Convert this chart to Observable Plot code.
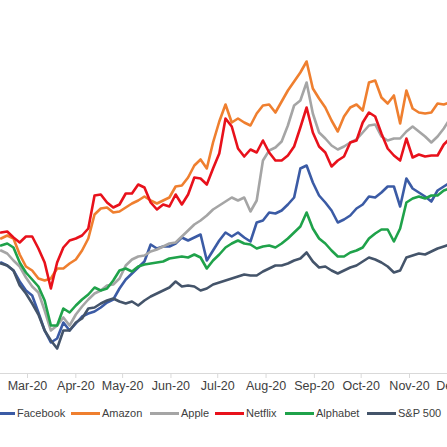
<!DOCTYPE html>
<html>
<head>
<meta charset="utf-8">
<script src="https://cdn.jsdelivr.net/npm/d3@7"></script>
<script src="https://cdn.jsdelivr.net/npm/@observablehq/plot@0.6"></script>
<style>
  html, body { margin: 0; padding: 0; background: #fff; overflow: hidden; }
  #wrap { position: relative; width: 447px; height: 447px; overflow: hidden; font-family: "Liberation Sans", Arial, sans-serif; }
  #chart { width: 480px; }
  #chart svg { display: block; max-width: none !important; width: 480px !important; height: 400px !important; }
  .lg { position: absolute; top: 406px; height: 14px; line-height: 14px; font-size: 11px; color: #404040; white-space: nowrap; }
  .sw { position: absolute; top: 411.5px; height: 3px; width: 29px; }
</style>
</head>
<body>
<div id="wrap"><div id="chart"></div><div id="legend"></div></div>
<script>
const dates = d3.utcDay.range(new Date(Date.UTC(2020, 1, 13)), new Date(Date.UTC(2020, 10, 28)), 4);

const seriesNames = ["Facebook", "Amazon", "Apple", "Netflix", "Alphabet", "S&P 500"];
const seriesColors = ["#3b5ba5", "#ef7f2f", "#a5a5a5", "#e8111b", "#1fa24a", "#44546a"];

const facebook = [138,135,130,119,110,105,88,70,58,62, 78,70,77,84,87,89,93,98,101,112,
  121,127,133,139,156,152,154,154,157,163, 160,163,166,140,150,160,168,164,168,163,
  159,178,180,188,187,190,196,203,232,235, 218,205,198,190,178,181,185,192,196,204,
  203,208,214,214,194,222,212,208,204,199, 210,214,218];
const amazon = [162,165,162,146,134,130,122,120,122,132, 132,137,141,150,162,186,192,193,188,189,
  193,197,200,204,200,197,200,203,214,215, 223,235,241,232,258,279,296,278,282,278,
  275,287,295,296,288,299,310,319,328,339, 312,302,293,280,269,284,293,296,290,318,
  320,303,297,305,277,310,292,288,287,288, 297,296,298];
const apple = [150,147,140,134,123,114,108,90,70,75, 83,75,86,94,101,107,110,115,116,122,
  135,141,144,145,149,151,154,157,158,164, 170,176,180,185,191,195,199,203,200,203,
  189,200,240,250,253,259,275,295,300,318, 287,268,262,255,251,254,258,261,268,275,
  276,264,260,262,262,269,274,269,264,258, 264,272,282];
const netflix = [168,169,163,158,164,164,152,138,112,138, 153,160,162,165,172,205,206,198,193,196,
  207,207,216,213,198,191,196,194,206,196, 206,223,222,216,232,247,282,274,252,244,
  251,248,260,248,240,240,245,254,273,293, 268,254,248,234,240,244,258,260,278,288,
  284,267,252,245,240,262,243,246,244,245, 245,256,262];
const alphabet = [155,157,153,138,128,121,114,100,75,75, 92,88,95,101,106,113,110,112,120,130,
  132,129,134,136,137,138,139,142,143,144, 143,146,143,132,140,146,153,157,160,157,
  156,152,154,155,153,157,162,168,174,188, 172,162,157,150,144,144,148,150,153,162,
  167,171,171,159,172,198,202,204,202,205, 205,210,212];
const sp500 = [137,135,130,115,107,97,86,70,60,52, 70,70,78,82,92,93,97,100,102,99,
  97,99,95,100,104,107,110,113,119,114, 115,114,110,112,116,118,120,122,124,126,
  125,125,129,132,135,135,137,140,142,148, 139,133,134,130,127,130,133,135,139,143,
  141,138,134,128,130,143,145,147,146,149, 152,154,156];

const seriesValues = [facebook, amazon, apple, netflix, alphabet, sp500];
const rows = [];
seriesNames.forEach((name, s) => {
  const vals = seriesValues[s];
  const n = Math.min(vals.length, dates.length);
  for (let i = 0; i < n; i++) rows.push({date: dates[i], value: vals[i], series: name});
});

// x scale: Mar 1 at 27px, Nov 1 at 409px (extrapolated across a 480px-wide frame)
const W = 480;
const mar1 = Date.UTC(2020, 2, 1), nov1 = Date.UTC(2020, 10, 1);
const msPerPx = (nov1 - mar1) / 382;
const x0 = new Date(mar1 - 27 * msPerPx), x1 = new Date(mar1 + (W - 27) * msPerPx);
const monthTicks = d3.utcMonth.range(new Date(Date.UTC(2020, 2, 1)), new Date(Date.UTC(2021, 0, 1)));

const chart = Plot.plot({
  width: W,
  height: 400,
  marginLeft: 0,
  marginRight: 0,
  marginTop: 0,
  marginBottom: 27,
  style: {fontFamily: "'Liberation Sans', Arial, sans-serif", background: "#fff", maxWidth: "none"},
  x: {type: "utc", domain: [x0, x1]},
  y: {domain: [27, 400], axis: null},
  color: {domain: seriesNames, range: seriesColors},
  marks: [
    Plot.ruleY([27], {stroke: "#d9d9d9", strokeWidth: 1}),
    Plot.axisX({ticks: monthTicks, tickFormat: d3.utcFormat("%b-%y"), tickSize: 5, tickPadding: 3,
      fontSize: 12.5, stroke: "#d9d9d9", fill: "#404040", label: null}),
    Plot.lineY(rows, {x: "date", y: "value", z: "series", stroke: "series",
      strokeWidth: 2.6, strokeLinejoin: "round", strokeLinecap: "round"})
  ]
});
document.getElementById("chart").appendChild(chart);

// legend below the plot
const textLefts = [17, 102, 181, 246, 316, 398];
const legend = document.getElementById("legend");
seriesNames.forEach((name, i) => {
  const sw = document.createElement("div");
  sw.className = "sw";
  sw.style.left = (textLefts[i] - 31) + "px";
  sw.style.background = seriesColors[i];
  legend.appendChild(sw);
  const t = document.createElement("div");
  t.className = "lg";
  t.style.left = textLefts[i] + "px";
  t.textContent = name;
  legend.appendChild(t);
});
</script>
</body>
</html>
